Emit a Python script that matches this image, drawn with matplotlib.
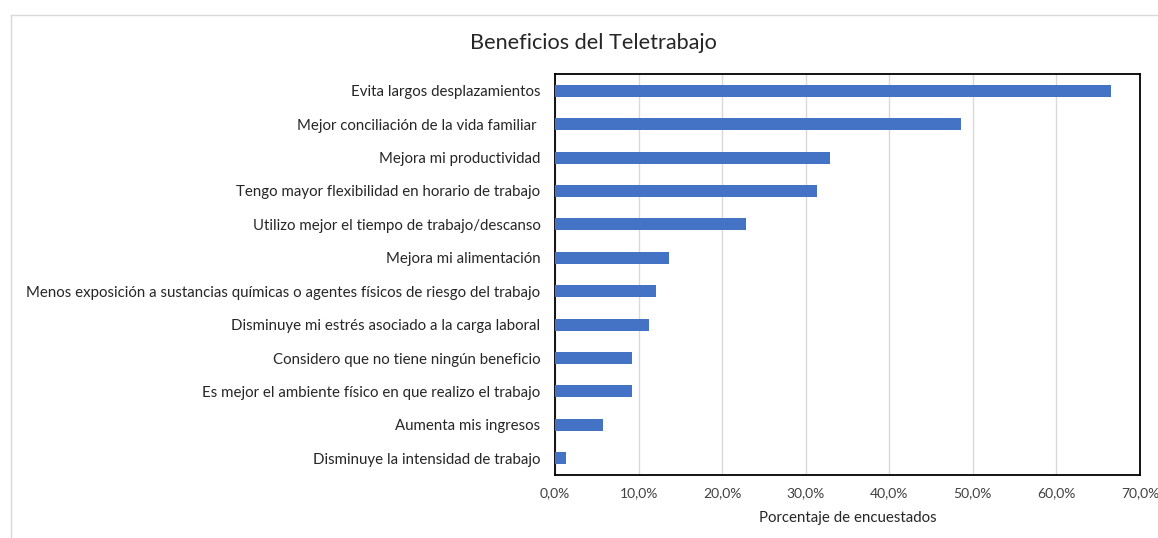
import matplotlib
matplotlib.use("Agg")
import matplotlib.pyplot as plt
from matplotlib.ticker import FuncFormatter, MultipleLocator
from matplotlib.lines import Line2D

categories = [
    "Evita largos desplazamientos",
    "Mejor conciliación de la vida familiar ",
    "Mejora mi productividad",
    "Tengo mayor flexibilidad en horario de trabajo",
    "Utilizo mejor el tiempo de trabajo/descanso",
    "Mejora mi alimentación",
    "Menos exposición a sustancias químicas o agentes físicos de riesgo del trabajo",
    "Disminuye mi estrés asociado a la carga laboral",
    "Considero que no tiene ningún beneficio",
    "Es mejor el ambiente físico en que realizo el trabajo",
    "Aumenta mis ingresos",
    "Disminuye la intensidad de trabajo",
]
values = [66.5, 48.6, 32.9, 31.4, 22.8, 13.6, 12.1, 11.3, 9.2, 9.2, 5.7, 1.3]

title = "Beneficios del Teletrabajo"
xlabel = "Porcentaje de encuestados"

plt.rcParams['font.family'] = ['Lato', 'DejaVu Sans']

W, H = 1158, 538
fig = plt.figure(figsize=(W / 100, H / 100), dpi=100)
ax = fig.add_axes([555 / W, 1 - 475 / H, (1140 - 555) / W, (475 - 74) / H])

ypos = list(range(len(categories)))[::-1]
ax.barh(ypos, values, height=0.36, color="#4472C4", zorder=3)
ax.set_yticks(ypos)
ax.set_yticklabels(categories, fontsize=10.85, color="#262626")
ax.set_ylim(-0.5, len(categories) - 0.5)

ax.set_xlim(0, 70)
ax.xaxis.set_major_locator(MultipleLocator(10))
ax.xaxis.set_major_formatter(FuncFormatter(lambda v, p: f"{v:.1f}%".replace(".", ",")))
ax.tick_params(axis="x", labelsize=10, colors="#404040", length=0, pad=9)
ax.tick_params(axis="y", length=0, pad=10.5)
ax.grid(axis="x", color="#D9D9D9", linewidth=1, zorder=0)

for s in ax.spines.values():
    s.set_color("black")
    s.set_linewidth(1.3)

ax.set_xlabel(xlabel, fontsize=10.8, color="#262626", labelpad=8)
fig.text(593 / W, 1 - 43 / H, title, fontsize=15.6, color="#262626", ha="center", va="center")

# outer chart border (light gray)
fig.add_artist(Line2D([11 / W, 1], [1 - 15 / H, 1 - 15 / H], transform=fig.transFigure, color="#D9D9D9", lw=1))
fig.add_artist(Line2D([11 / W, 11 / W], [0, 1 - 15 / H], transform=fig.transFigure, color="#D9D9D9", lw=1))

fig.savefig("out.png", dpi=100)
